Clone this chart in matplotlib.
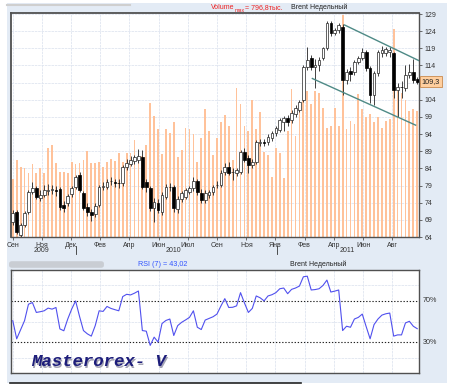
import matplotlib
matplotlib.use("Agg")
import matplotlib.pyplot as plt
import numpy as np
from matplotlib.patches import Rectangle, FancyBboxPatch
from matplotlib.transforms import blended_transform_factory

plt.rcParams["font.family"] = ["Liberation Sans", "DejaVu Sans"]

W, H = 456, 388

# weekly Brent candles, Sep 2009 .. Sep 2011
OPENS = [68.4, 71.3, 64.6, 67.5, 71.3, 77.1, 78.3, 75.4, 76.2, 77.5,
         77.7, 77.7, 78.0, 73.3, 73.9, 76.5, 78.6, 82.1, 76.8, 72.8,
         71.3, 70.7, 73.3, 78.6, 78.6, 80.3, 79.9, 79.8, 79.7, 84.4,
         85.3, 86.2, 86.4, 87.3, 80.0, 78.3, 72.5, 73.9, 71.3, 75.7,
         78.6, 78.6, 72.2, 75.1, 75.7, 77.1, 78.3, 80.3, 76.8, 74.8,
         76.2, 77.1, 79.1, 79.2, 83.0, 84.4, 82.9, 82.7, 83.0, 88.8,
         87.0, 85.0, 85.9, 91.4, 91.5, 91.7, 92.9, 94.3, 95.2, 97.5,
         98.7, 98.1, 99.9, 101.0, 103.9, 113.6, 116.2, 113.6, 114.0, 116.2,
         119.1, 126.4, 123.5, 124.3, 125.2, 109.8, 112.4, 112.1, 115.0, 116.2,
         117.9, 113.3, 105.4, 111.8, 117.6, 117.6, 117.8, 117.6, 106.9, 107.7,
         107.4, 111.2, 112.1, 110.1]
CLOSES = [71.0, 65.5, 67.5, 71.0, 77.1, 78.3, 75.7, 76.2, 77.7, 77.6,
          77.8, 77.5, 72.8, 72.5, 76.0, 78.3, 81.5, 77.7, 72.5, 71.3,
          70.4, 73.0, 78.6, 78.8, 80.0, 80.4, 79.7, 79.7, 84.4, 85.6,
          86.4, 87.3, 87.5, 78.6, 78.6, 72.5, 74.2, 71.9, 76.2, 78.6,
          78.5, 72.5, 75.1, 76.8, 77.7, 78.3, 80.3, 77.1, 74.8, 76.8,
          77.1, 78.6, 79.3, 82.7, 84.4, 82.7, 83.0, 83.5, 88.8, 86.5,
          85.0, 85.9, 91.7, 91.5, 91.4, 93.2, 94.3, 95.8, 98.1, 98.7,
          97.5, 100.2, 101.6, 103.4, 113.6, 115.6, 113.6, 114.0, 115.6, 119.1,
          126.4, 123.5, 124.3, 125.8, 109.8, 112.1, 111.5, 115.0, 116.2, 117.9,
          113.3, 105.4, 111.8, 117.9, 118.5, 118.8, 118.6, 106.9, 107.7, 107.6,
          111.2, 112.1, 109.8, 109.3]
HIGHS = [72.0, 72.0, 68.2, 71.6, 77.8, 80.0, 79.0, 77.6, 79.2, 79.5,
         79.2, 78.8, 78.6, 74.5, 76.6, 78.9, 82.2, 82.9, 77.5, 74.0,
         72.3, 73.8, 79.2, 80.0, 81.0, 81.4, 80.9, 80.8, 85.0, 86.7,
         87.6, 88.0, 89.6, 89.4, 80.9, 79.0, 75.3, 75.0, 77.0, 79.4,
         79.8, 79.2, 75.9, 77.4, 78.3, 79.0, 81.6, 80.8, 77.9, 77.6,
         77.8, 79.3, 80.3, 83.6, 85.5, 85.9, 84.0, 84.2, 89.4, 90.0,
         87.8, 86.7, 92.3, 92.5, 92.6, 93.9, 95.0, 96.5, 98.7, 99.3,
         99.6, 101.0, 102.4, 104.0, 114.2, 119.4, 117.0, 116.0, 116.5, 119.5,
         127.0, 126.9, 125.0, 126.3, 126.0, 113.0, 113.5, 115.6, 116.8, 119.2,
         118.4, 113.8, 112.5, 118.5, 119.6, 119.5, 119.3, 118.0, 109.0, 109.5,
         114.2, 114.4, 116.0, 110.6]
LOWS = [67.5, 64.8, 64.0, 66.8, 70.6, 76.4, 75.0, 74.6, 75.6, 76.2,
        76.5, 76.0, 72.0, 71.2, 73.0, 75.8, 78.0, 77.0, 71.8, 70.2,
        68.6, 69.9, 72.6, 77.7, 77.9, 79.2, 78.6, 78.4, 79.0, 83.5,
        84.6, 85.3, 85.7, 78.0, 77.2, 71.7, 68.4, 70.9, 70.5, 75.0,
        77.5, 71.3, 71.0, 74.1, 75.0, 76.4, 77.5, 76.2, 74.0, 74.0,
        75.4, 76.3, 78.2, 78.6, 82.2, 82.0, 80.6, 81.8, 82.4, 85.8,
        82.7, 84.0, 85.2, 90.4, 90.6, 90.9, 92.1, 93.5, 94.6, 95.0,
        96.4, 97.3, 99.0, 100.3, 103.3, 112.8, 112.6, 107.4, 112.5, 115.5,
        118.6, 122.5, 122.8, 123.5, 105.4, 108.5, 109.6, 111.3, 114.3, 115.5,
        112.5, 103.0, 102.5, 111.0, 116.5, 116.8, 116.6, 104.5, 99.0, 104.6,
        106.5, 110.4, 109.0, 108.6]
# volume, thousands
VOLUME = [207, 275, 250, 247, 229, 261, 229, 247, 229, 318,
          332, 264, 232, 232, 229, 268, 261, 264, 275, 307,
          264, 264, 268, 250, 268, 279, 272, 300, 268, 300,
          300, 347, 275, 289, 329, 482, 436, 389, 297, 386,
          375, 411, 286, 311, 393, 386, 368, 268, 357, 461,
          382, 293, 357, 414, 439, 397, 275, 536, 479, 397,
          379, 493, 389, 450, 304, 293, 214, 318, 300, 211,
          382, 532, 364, 472, 490, 525, 479, 525, 518, 464,
          393, 400, 464, 400, 796.8, 389, 418, 407, 515, 461,
          429, 443, 411, 429, 393, 418, 425, 747, 525, 518,
          490, 454, 461, 454]
RSI = [50.8, 33.2, 42, 50.8, 66.8, 68.4, 58.8, 59.5, 60.4, 63,
       62, 63.6, 42.8, 41, 52.4, 62, 70, 55, 41.2, 38,
       35.8, 46, 60.4, 59.8, 64.6, 62.7, 61.5, 60.4, 74.2, 76.4,
       75.8, 77.5, 79.6, 41.2, 40.6, 26.8, 34.8, 30, 48, 51,
       52.4, 36.4, 46, 49.2, 51.5, 54, 60.4, 44.4, 42.2, 51.4,
       53, 54.6, 57.2, 65, 72.2, 63.6, 63.8, 65.2, 78, 68,
       58.8, 62.7, 74.8, 73, 70, 74.8, 76, 78, 81.8, 82.5,
       77, 81.2, 82.5, 84.4, 93.4, 94, 80.6, 81, 81.8, 85,
       90.2, 78.6, 79.5, 80.6, 41.2, 45.4, 44.4, 52.4, 54, 57.2,
       45, 33.2, 47, 52.4, 56.2, 57.5, 58.2, 35.8, 37, 37,
       48.6, 50.2, 45.4, 43.02]

MONTHS = ["Сен", "Ноя", "Дек", "Фев", "Апр", "Июн", "Июл",
          "Сен", "Ноя", "Янв", "Фев", "Апр", "Июн", "Авг"]
MONTH_POS = [0, 7.4, 14.9, 22.3, 29.7, 37.2, 44.6, 52.0, 59.5, 66.9, 74.3, 81.8, 89.2, 96.6]
YEARS = ["2009", "2010", "2011"]
YEAR_POS = [7.4, 40.8, 85.1]
YEAR_SEPS = [16.1, 67.4]
PRICE_TICKS = list(range(64, 130, 5))
LAST_PRICE = 109.3
CHANNEL_UP = ([84.5, 103.45], [125.8, 115.4])
CHANNEL_DN = ([76.3, 102.6], [110.2, 96.6])

BG = "#e3ebf5"
GRID = "#dfe5f0"
VOL = "#ffc29a"
INK = "#333333"


def fx(px):
    return px / W


def fy(py):
    return 1 - py / H


def rect(left, top, right, bottom):
    return [fx(left), fy(bottom), (right - left) / W, (bottom - top) / H]


fig = plt.figure(figsize=(W / 100, H / 100), dpi=100)
fig.patch.set_facecolor("white")
fig.patches.append(Rectangle((fx(7), fy(383)), 440 / W, 380 / H, transform=fig.transFigure,
                             facecolor=BG, edgecolor="none", zorder=-10))
fig.add_artist(plt.Line2D([fx(7), fx(130)], [fy(4.5), fy(4.5)], color="#cfcfcf", lw=1.5))
fig.add_artist(plt.Line2D([fx(10), fx(301)], [fy(383), fy(383)], color="#222222", lw=1.2))

x = np.arange(len(CLOSES))
o = np.array(OPENS)
c = np.array(CLOSES)
xlim = (-0.45, 103.45)

main_rect = rect(11, 13, 419, 237)
ax_g = fig.add_axes(main_rect, zorder=1)
ax_v = fig.add_axes(main_rect, zorder=2)
ax_p = fig.add_axes(main_rect, zorder=3)

# grid layer
ax_g.set_facecolor("white")
ax_g.set_xlim(*xlim)
ax_g.set_ylim(64, 129.3)
ax_g.set_xticks(MONTH_POS)
ax_g.set_yticks(PRICE_TICKS)
ax_g.grid(True, color=GRID, lw=0.6, ls=(0, (3, 1)))
ax_g.tick_params(length=0, labelbottom=False, labelleft=False)
for s in ax_g.spines.values():
    s.set_visible(False)

# volume layer
ax_v.patch.set_visible(False)
ax_v.bar(x, VOLUME, width=0.45, color=VOL, linewidth=0)
ax_v.set_xlim(*xlim)
ax_v.set_ylim(0, 804)
ax_v.axis("off")

# price layer
ax_p.patch.set_visible(False)
ax_p.vlines(x, LOWS, HIGHS, color="#222222", lw=0.6, zorder=2)
up = c >= o
body_bottom = np.minimum(o, c)
body_h = np.maximum(np.abs(c - o), 0.15)
ax_p.bar(x[up], body_h[up], bottom=body_bottom[up], width=0.68, color="white",
         edgecolor="#222222", linewidth=0.5, zorder=3)
ax_p.bar(x[~up], body_h[~up], bottom=body_bottom[~up], width=0.68, color="black",
         edgecolor="black", linewidth=0.5, zorder=3)
ax_p.plot(*CHANNEL_UP, color="#4e8a86", lw=1.0, zorder=4)
ax_p.plot(*CHANNEL_DN, color="#4e8a86", lw=1.0, zorder=4)
ax_p.set_xlim(*xlim)
ax_p.set_ylim(64, 129.3)
ax_p.yaxis.tick_right()
ax_p.set_yticks(PRICE_TICKS, ["" if t == 109 else str(t) for t in PRICE_TICKS])
ax_p.set_xticks(MONTH_POS, MONTHS)
ax_p.tick_params(axis="both", labelsize=5, colors="#555555", labelcolor=INK, length=2, width=0.6)
ax_p.tick_params(axis="x", pad=1.5)
ax_p.tick_params(axis="y", pad=2)
for s in ax_p.spines.values():
    s.set_color("#505050")
    s.set_linewidth(1.0)
ax_p.spines["top"].set_linewidth(1.3)
ax_p.spines["left"].set_linewidth(1.3)

right_tr = blended_transform_factory(ax_p.transAxes, ax_p.transData)
ax_p.text(1.006, LAST_PRICE, "109,3", transform=right_tr, ha="left", va="center",
          fontsize=5.2, color="#222222",
          bbox=dict(boxstyle="square,pad=0.25", facecolor="#ffcf9f", edgecolor="#c98a4e", lw=0.6))

year_tr = blended_transform_factory(ax_p.transData, fig.transFigure)
for pos, label in zip(YEAR_POS, YEARS):
    ax_p.text(pos, fy(251), label, transform=year_tr, ha="center", va="center",
              fontsize=5, color=INK)
for pos in YEAR_SEPS:
    ax_p.plot([pos, pos], [fy(246), fy(253.5)], transform=year_tr, color=INK, lw=0.6,
              clip_on=False)

# header
fig.text(fx(211), fy(7.5), "Volume", color="#ee2222", fontsize=5.0, va="center")
fig.text(fx(234.5), fy(10), "max", color="#ee2222", fontsize=3.8, va="center")
fig.text(fx(245), fy(7.5), "= 796,8тыс.", color="#ee2222", fontsize=5.0, va="center")
fig.text(fx(291), fy(7.5), "Brent Недельный", color="#222222", fontsize=5.0, va="center")

# RSI panel
ax_r = fig.add_axes(rect(11, 270, 419, 373), zorder=1)
ax_r.set_facecolor("white")
ax_r.plot(x, RSI, color="#5050ee", lw=0.8, zorder=3)
ax_r.axhline(70, color="#222222", lw=0.8, ls=(0, (1.2, 1.6)), zorder=2)
ax_r.axhline(30, color="#222222", lw=0.8, ls=(0, (1.2, 1.6)), zorder=2)
ax_r.set_xlim(*xlim)
ax_r.set_ylim(0, 100)
ax_r.set_xticks(MONTH_POS)
ax_r.set_yticks([15, 50, 85])
ax_r.grid(True, color=GRID, lw=0.6, ls=(0, (3, 1)))
ax_r.tick_params(length=0, labelbottom=False, labelleft=False)
for s in ax_r.spines.values():
    s.set_color("#505050")
    s.set_linewidth(1.0)
rsi_tr = blended_transform_factory(ax_r.transAxes, ax_r.transData)
ax_r.text(1.01, 70, "70%", transform=rsi_tr, ha="left", va="center", fontsize=5.2, color=INK)
ax_r.text(1.01, 30, "30%", transform=rsi_tr, ha="left", va="center", fontsize=5.2, color=INK)

fig.patches.append(FancyBboxPatch((fx(10), fy(267)), 93 / W, 5 / H,
                                  boxstyle="round,pad=0.002,rounding_size=0.006",
                                  transform=fig.transFigure, facecolor="#c9cdd3",
                                  edgecolor="none", zorder=1))
fig.text(fx(138), fy(264.5), "RSI (7) = 43,02", color="#3355ff", fontsize=5.2, va="center")
fig.text(fx(290), fy(264.5), "Brent Недельный", color="#222222", fontsize=5.0, va="center")

# watermark
fig.text(fx(32.5), fy(363.5), "Masterorex- V", family="Liberation Mono", weight="bold",
         style="italic", fontsize=12.5, color="#a4a4b4", va="center", zorder=5)
fig.text(fx(31), fy(362), "Masterorex- V", family="Liberation Mono", weight="bold",
         style="italic", fontsize=12.5, color="#1d1d7a", va="center", zorder=6)

fig.savefig("out.png", dpi=100, facecolor="white")
